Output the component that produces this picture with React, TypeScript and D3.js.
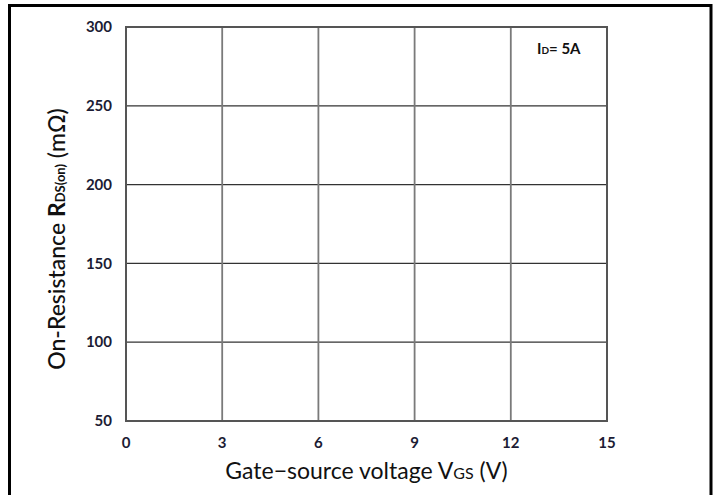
import React from 'react'
import * as d3 from 'd3'

const xTicks = [0, 3, 6, 9, 12, 15]
const yTicks = [50, 100, 150, 200, 250, 300]
const xDomain = [0, 15]
const yDomain = [50, 300]

const W = 723
const H = 495
const M = { left: 126, right: 607, top: 27, bottom: 421 }
const FONT = 'Lato, "Open Sans", sans-serif'
const LABEL = '#1c1c34'

const App = () => {
  const x = d3.scaleLinear().domain(xDomain).range([M.left, M.right])
  const y = d3.scaleLinear().domain(yDomain).range([M.bottom, M.top])

  return (
    <svg width={W} height={H} style={{ position: 'absolute', left: 0, top: 0, background: '#fff' }}>
      {/* outer frame (no bottom edge) */}
      <path d={`M9.5,${H} V5.5 H711 V${H}`} fill="none" stroke="#000" strokeWidth={3} />

      {/* grid */}
      {yTicks.slice(1, -1).map(t => (
        <line key={'h' + t} x1={M.left} x2={M.right} y1={y(t)} y2={y(t)} stroke="#333" strokeWidth={1.3} />
      ))}
      {xTicks.slice(1, -1).map(t => (
        <line key={'v' + t} x1={x(t)} x2={x(t)} y1={M.top} y2={M.bottom} stroke="#7a7a7a" strokeWidth={1.8} />
      ))}
      <rect x={M.left} y={M.top} width={M.right - M.left} height={M.bottom - M.top}
        fill="none" stroke="#555" strokeWidth={2} />

      {/* tick labels */}
      {yTicks.map(t => (
        <text key={'yl' + t} x={112} y={y(t)} dy="0.35em" textAnchor="end"
          fontFamily={FONT} fontSize={15} fontWeight="bold" fill={LABEL}>{t}</text>
      ))}
      {xTicks.map(t => (
        <text key={'xl' + t} x={x(t)} y={443} dy="0.35em" textAnchor="middle"
          fontFamily={FONT} fontSize={15} fontWeight="bold" fill={LABEL}>{t}</text>
      ))}

      {/* annotation */}
      <text x={537} y={54} fontFamily={FONT} fontSize={15} fontWeight="bold" fill="#111">
        I<tspan fontSize={10}>D</tspan>= 5A
      </text>

      {/* axis titles */}
      <text x={(M.left + M.right) / 2} y={479} textAnchor="middle" fontFamily={FONT} fontSize={23} fill="#111">
        Gate−source voltage V<tspan fontSize={16}>GS</tspan> (V)
      </text>
      <text transform={`translate(65,239) rotate(-90)`} textAnchor="middle" fontFamily={FONT} fontSize={23}
        fontWeight={500} fill="#111">
        On-Resistance <tspan fontWeight="bold">R</tspan><tspan fontSize={13} fontWeight="bold">DS(on)</tspan> (mΩ)
      </text>
    </svg>
  )
}

export default App
